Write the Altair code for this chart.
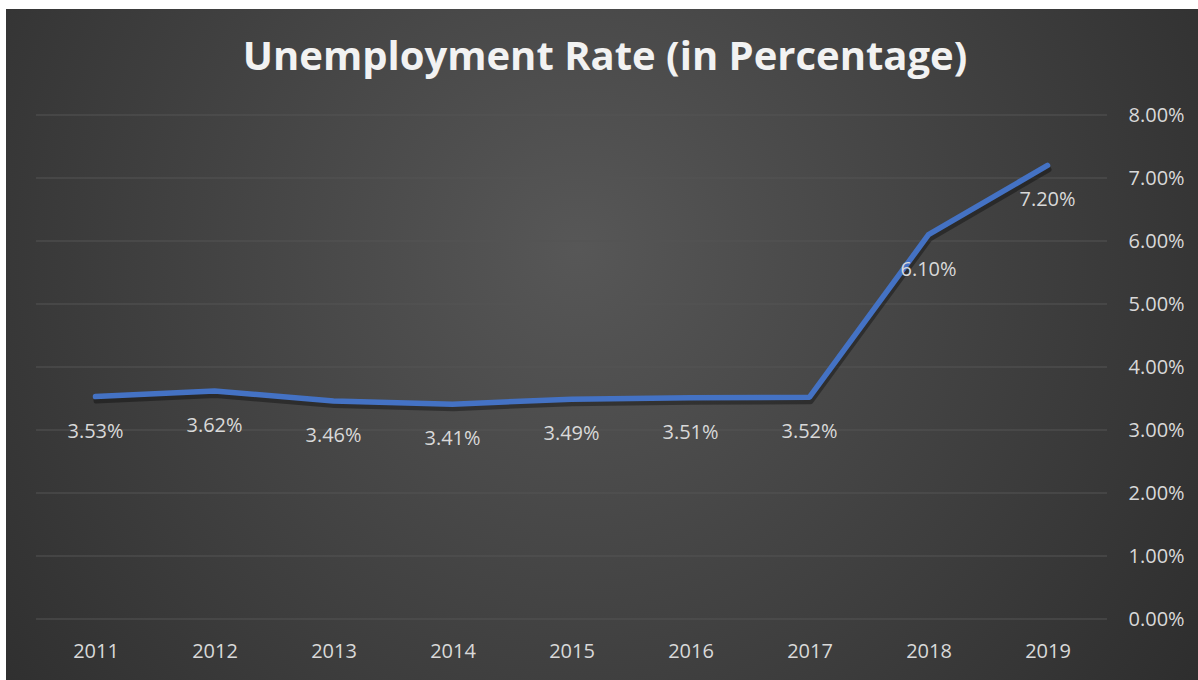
import altair as alt
import pandas as pd

years = ["2011", "2012", "2013", "2014", "2015", "2016", "2017", "2018", "2019"]
rates = [3.53, 3.62, 3.46, 3.41, 3.49, 3.51, 3.52, 6.10, 7.20]
y_ticks = [0, 1, 2, 3, 4, 5, 6, 7, 8]
title_text = "Unemployment Rate (in Percentage)"

df = pd.DataFrame({"year": years, "rate": rates})
grid_df = pd.DataFrame({"v": y_ticks})
one = pd.DataFrame({"t": [title_text]})

W, H = 1071, 504
PL, PT = 36, 115

yscale = alt.Scale(domain=[0, 8], nice=False, zero=True)
yaxis = alt.Axis(
    orient="right", values=y_ticks, grid=False, domain=False, ticks=False,
    labelExpr="format(datum.value, '.2f') + '%'", labelFont="Open Sans",
    labelFontSize=20, labelColor="#d9d9d9", labelPadding=21, title=None, zindex=1,
)
xaxis = alt.Axis(
    labelAngle=0, grid=False, domain=False, ticks=False, labelFont="Open Sans",
    labelFontSize=20, labelColor="#d9d9d9", labelPadding=32, labelBaseline="middle",
    title=None, zindex=1,
)
xscale = alt.Scale(type="point", padding=0.5)

grad = alt.Gradient(
    gradient="radial",
    stops=[alt.GradientStop(color="#575757", offset=0), alt.GradientStop(color="#262626", offset=1)],
    x1=0.48, y1=0.42, r1=0, x2=0.48, y2=0.42, r2=0.75,
)

bg = alt.Chart(one).mark_rect(fill=grad).encode(
    x=alt.value(6 - PL), x2=alt.value(1198 - PL), y=alt.value(9 - PT), y2=alt.value(680 - PT)
)

title = alt.Chart(one).mark_text(
    font="Open Sans", fontSize=40, fontWeight="bold", color="#f2f2f2",
    align="center", baseline="middle",
).encode(x=alt.value(605 - PL), y=alt.value(58 - PT), text="t:N")

grid = alt.Chart(grid_df).mark_rule(color="#555555", strokeWidth=1.2).encode(
    y=alt.Y("v:Q", scale=yscale, axis=yaxis)
)

shadow = alt.Chart(df).mark_line(
    color="black", opacity=0.35, strokeWidth=6, strokeCap="round", strokeJoin="round", yOffset=4, xOffset=1
).encode(
    x=alt.X("year:O", scale=xscale, axis=xaxis, sort=years),
    y=alt.Y("rate:Q", scale=yscale, axis=yaxis),
)

line = alt.Chart(df).mark_line(
    color="#4472C4", strokeWidth=5.5, strokeCap="round", strokeJoin="round"
).encode(
    x=alt.X("year:O", scale=xscale, axis=xaxis, sort=years),
    y=alt.Y("rate:Q", scale=yscale, axis=yaxis),
)

labels = alt.Chart(df).transform_calculate(
    label="format(datum.rate, '.2f') + '%'"
).mark_text(
    font="Open Sans", fontSize=20, color="#d9d9d9", dy=35, baseline="middle", align="center"
).encode(
    x=alt.X("year:O", scale=xscale, axis=xaxis, sort=years),
    y=alt.Y("rate:Q", scale=yscale, axis=yaxis),
    text="label:N",
)

chart = alt.layer(bg, title, grid, shadow, line, labels).properties(
    width=W, height=H,
    autosize=alt.AutoSizeParams(type="none"),
    padding={"left": PL, "top": PT, "right": 1198 - PL - W, "bottom": 680 - PT - H},
    background="white",
).configure_view(stroke=None)

chart.save("out.html", embed_options={"renderer": "svg", "actions": False})
